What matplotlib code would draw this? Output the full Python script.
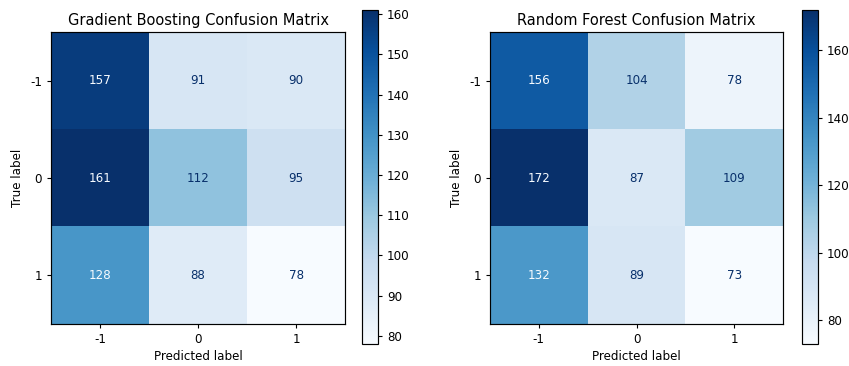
import numpy as np
import matplotlib
matplotlib.use("Agg")
import matplotlib.pyplot as plt

class_labels = ["-1", "0", "1"]

gb_matrix = [
    [157, 91, 90],
    [161, 112, 95],
    [128, 88, 78],
]

rf_matrix = [
    [156, 104, 78],
    [172, 87, 109],
    [132, 89, 73],
]

plt.rcParams["font.size"] = 8.6
plt.rcParams["axes.titlesize"] = 10.5
plt.rcParams["xtick.major.size"] = 3
plt.rcParams["ytick.major.size"] = 3
plt.rcParams["axes.linewidth"] = 0.85


def draw_confusion(ax, cax, matrix, title):
    cm = np.array(matrix)
    cmap = plt.get_cmap("Blues")
    im = ax.imshow(cm, interpolation="nearest", cmap=cmap, aspect="auto")
    thresh = (cm.max() + cm.min()) / 2.0
    dark, light = cmap(1.0), cmap(0.0)
    for i in range(cm.shape[0]):
        for j in range(cm.shape[1]):
            color = light if cm[i, j] >= thresh else dark
            ax.text(j, i, str(cm[i, j]), ha="center", va="center", color=color)
    ax.set_xticks(range(len(class_labels)))
    ax.set_xticklabels(class_labels)
    ax.set_yticks(range(len(class_labels)))
    ax.set_yticklabels(class_labels)
    ax.set_xlabel("Predicted label", labelpad=3)
    ax.set_ylabel("True label")
    ax.set_title(title, pad=5)
    plt.colorbar(im, cax=cax)


fig = plt.figure(figsize=(8.49, 3.66), dpi=100)
W, H = 849, 366

def px_axes(x0, y0, x1, y1):
    return fig.add_axes([x0 / W, 1 - y1 / H, (x1 - x0) / W, (y1 - y0) / H])

ax1 = px_axes(51, 32, 345, 324)
cax1 = px_axes(362, 10, 378, 344)
ax2 = px_axes(490, 32, 783, 324)
cax2 = px_axes(802, 10, 818, 344)

draw_confusion(ax1, cax1, gb_matrix, "Gradient Boosting Confusion Matrix")
draw_confusion(ax2, cax2, rf_matrix, "Random Forest Confusion Matrix")

fig.savefig("out.png", dpi=100)
